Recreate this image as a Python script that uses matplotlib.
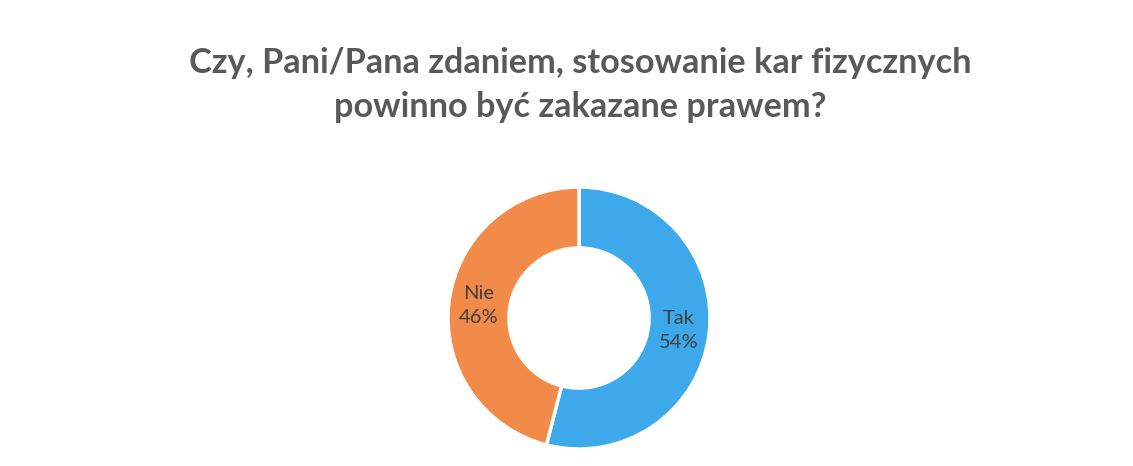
import matplotlib
matplotlib.use("Agg")
import matplotlib.pyplot as plt

title = "Czy, Pani/Pana zdaniem, stosowanie kar fizycznych\npowinno być zakazane prawem?"
categories = ["Tak", "Nie"]
values = [54, 46]
colors = ["#3DA8EA", "#F28A4A"]

W, H = 1133, 466
fig = plt.figure(figsize=(W / 100, H / 100), dpi=100)
fig.patch.set_facecolor("white")

cx, cy, R = 579, 466 - 318, 131
ax = fig.add_axes([(cx - R) / W, (cy - R) / H, 2 * R / W, 2 * R / H])
labels = [f"{c}\n{v}%" for c, v in zip(categories, values)]
wedges, texts = ax.pie(values, labels=labels, colors=colors, startangle=90,
                       counterclock=False, radius=1.0, labeldistance=0.77,
                       wedgeprops=dict(width=0.465, edgecolor="white", linewidth=2.5),
                       textprops=dict(color="#404040", fontsize=14.5, family="Lato",
                                      ha="center", va="center", linespacing=1.5))
ax.set_xlim(-1, 1)
ax.set_ylim(-1, 1)
ax.set_aspect("equal")
ax.axis("off")

fig.text(580 / W, 1 - 85 / H, title, ha="center", va="center", fontsize=24.7,
         fontweight="bold", family="Lato", color="#595959", linespacing=1.45)

fig.savefig("out.png", dpi=100, facecolor="white")
